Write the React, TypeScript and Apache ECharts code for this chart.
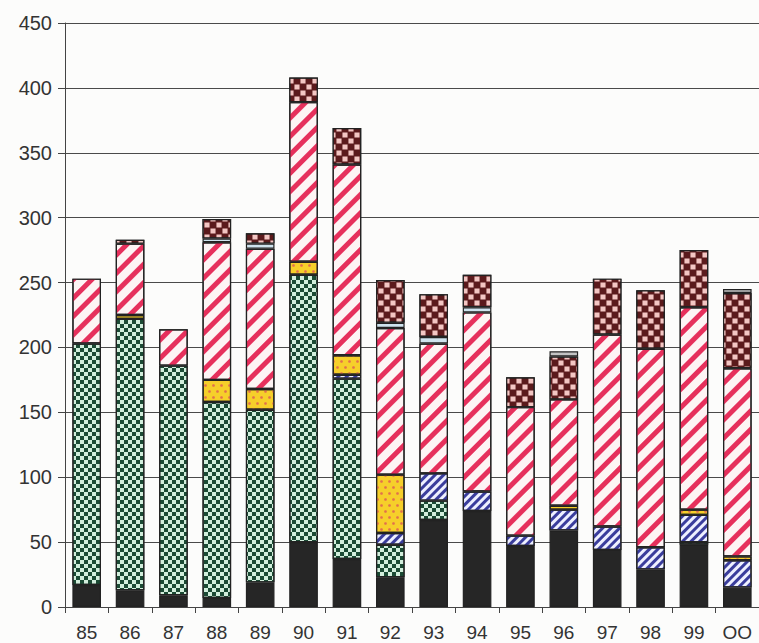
import React, { useEffect, useRef } from "react";
import * as echarts from "echarts";

const categories = ["85", "86", "87", "88", "89", "90", "91", "92", "93", "94", "95", "96", "97", "98", "99", "OO"];
const blackVals = [17, 13, 9, 7, 19, 50, 37, 23, 67, 74, 47, 59, 44, 29, 48, 15];
const greenVals = [186, 209, 177, 151, 133, 206, 139, 25, 15, 0, 0, 0, 0, 0, 2, 0];
const blueVals = [0, 0, 0, 0, 0, 0, 3, 9, 21, 15, 8, 16, 18, 17, 21, 21];
const yellowVals = [0, 3, 0, 17, 16, 10, 15, 45, 0, 0, 0, 3, 0, 0, 4, 3];
const redVals = [50, 55, 28, 106, 108, 123, 147, 113, 100, 138, 99, 82, 148, 153, 156, 145];
const lightVals = [0, 0, 0, 3, 4, 0, 0, 4, 5, 4, 0, 0, 0, 0, 0, 0];
const brownVals = [0, 3, 0, 15, 8, 19, 28, 33, 33, 25, 23, 33, 43, 45, 44, 58];
const topVals = [0, 0, 0, 0, 0, 0, 0, 0, 0, 0, 0, 4, 0, 0, 0, 3];
const yTicks = { min: 0, max: 450, interval: 50 };

const border = { borderColor: "#222", borderWidth: 1.2 };

function mkSeries(name: string, data: number[], itemStyle: any) {
  return {
    name,
    type: "bar",
    stack: "total",
    data: data.map((v) => (v === 0 ? null : v)),
    barCategoryGap: "34%",
    itemStyle: { ...border, ...itemStyle },
  };
}

export default function App() {
  const ref = useRef<HTMLDivElement>(null);
  useEffect(() => {
    if (!ref.current) return;
    const chart = echarts.init(ref.current, undefined, { renderer: "svg" });
    const font = "'Liberation Sans', Arial, sans-serif";
    chart.setOption({
      animation: false,
      backgroundColor: "#fcfcfb",
      grid: { left: 65, top: 23, bottom: 36, width: 698, containLabel: false },
      xAxis: {
        type: "category",
        data: categories,
        axisLine: { show: true, lineStyle: { color: "#444", width: 1 } },
        axisTick: { show: true, length: 6, lineStyle: { color: "#444" } },
        axisLabel: { color: "#333", fontSize: 19, fontFamily: font, margin: 16 },
      },
      yAxis: {
        type: "value",
        min: yTicks.min,
        max: yTicks.max,
        interval: yTicks.interval,
        axisLine: { show: true, lineStyle: { color: "#444", width: 1 } },
        axisTick: { show: true, length: 7, lineStyle: { color: "#444" } },
        axisLabel: { color: "#333", fontSize: 20, fontFamily: font, margin: 13 },
        splitLine: { show: true, lineStyle: { color: "#4a4a4a", width: 1 } },
      },
      series: [
        mkSeries("black", blackVals, { color: "#262626" }),
        mkSeries("green", greenVals, {
          color: "#d2eedc",
          decal: {
            symbol: "rect",
            symbolSize: 1,
            color: "#1b4a34",
            dashArrayX: [[4, 4], [0, 4, 4, 0]],
            dashArrayY: [4, 0],
          },
        }),
        mkSeries("blue", blueVals, {
          color: "#eef0ff",
          decal: {
            symbol: "rect",
            symbolSize: 1,
            color: "#3a3d9c",
            dashArrayX: [1, 0],
            dashArrayY: [3, 3],
            rotation: -Math.PI / 4,
          },
        }),
        mkSeries("yellow", yellowVals, {
          color: "#f6cf2a",
          decal: {
            symbol: "circle",
            symbolSize: 0.9,
            color: "#e2704c",
            dashArrayX: [[3, 5], [0, 4, 3, 1]],
            dashArrayY: [3, 3],
          },
        }),
        mkSeries("red", redVals, {
          color: "#fdf4f4",
          decal: {
            symbol: "rect",
            symbolSize: 1,
            color: "#e6305c",
            dashArrayX: [1, 0],
            dashArrayY: [5, 8],
            rotation: -Math.PI / 4,
          },
        }),
        mkSeries("light", lightVals, { color: "#cfe3ee" }),
        mkSeries("brown", brownVals, {
          color: "#5b1a1c",
          decal: {
            symbol: "rect",
            symbolSize: 0.85,
            color: "#f3c6c3",
            dashArrayX: [[6, 6], [0, 6, 6, 0]],
            dashArrayY: [6, 0],
          },
        }),
        mkSeries("top", topVals, { color: "#c4c4c4" }),
      ],
    });
    return () => chart.dispose();
  }, []);
  return (
    <div
      ref={ref}
      style={{ position: "fixed", left: 0, top: 0, width: 759, height: 643 }}
    />
  );
}
